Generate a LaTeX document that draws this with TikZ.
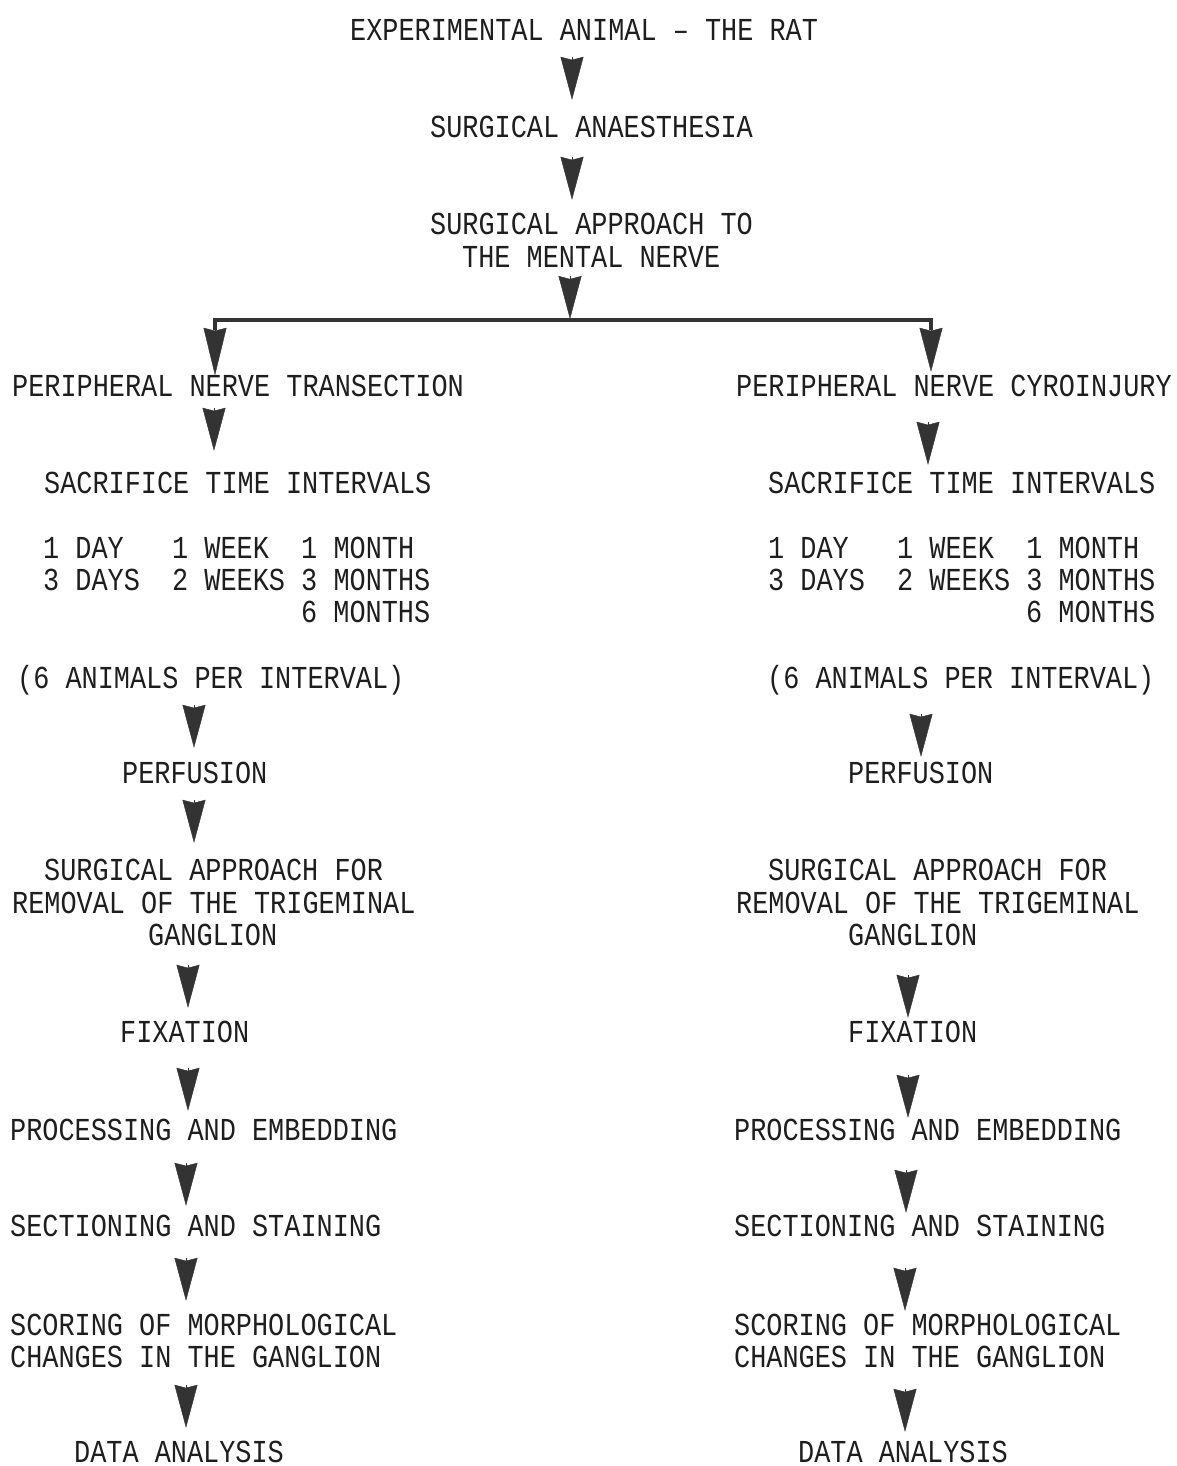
\documentclass[tikz,border=0pt]{standalone}
\usepackage{fontspec}
\newfontfamily\typefont{Liberation Mono}[FakeStretch=0.84]
\usetikzlibrary{arrows.meta}
\definecolor{ink}{HTML}{1E1E1E}
\definecolor{arrowc}{HTML}{333333}
\tikzset{
  lbl/.style={anchor=west, inner sep=0pt, text height=21pt, text depth=0pt, text=ink,
    font=\typefont\fontsize{32}{32}\selectfont},
  dart/.style={-{Stealth[length=#1,width=23pt,inset=3pt]}, line width=0.4pt, draw=arrowc},
  dart/.default=43pt,
  barline/.style={draw=arrowc, line width=4.5pt, line join=miter},
}
\begin{document}
\begin{tikzpicture}[x=1pt,y=-1pt]
\path[fill=white] (0,0) rectangle (1176,1466);
\useasboundingbox (0,0) rectangle (1176,1466);

% ---- top trunk
\node[lbl] (t1) at (350,30) {EXPERIMENTAL ANIMAL – THE RAT};
\node[lbl] (t2) at (430,127) {SURGICAL ANAESTHESIA};
\node[lbl] (t3a) at (430,224) {SURGICAL APPROACH TO};
\node[lbl] (t3b) at (462,257) {THE MENTAL NERVE};
\coordinate (split) at (570,320);
\coordinate (bl) at (215,320);
\coordinate (br) at (931,320);

\draw[dart, shorten <=16.5pt, shorten >=16.5pt] (t1.south -| 572,0) -- (t2.north -| 572,0);
\draw[dart, shorten <=19.5pt, shorten >=13.5pt] (t2.south -| 572,0) -- (t3a.north -| 572,0);
\draw[dart, shorten <=8.5pt, shorten >=1pt] (t3b.south -| split) -- (split);
\draw[barline] (bl) ++(0,10) -- (bl) -- (br) -- ++(0,10);

% ---- left branch
\node[lbl] (L1) at (12,386) {PERIPHERAL NERVE TRANSECTION};
\node[lbl] (L2) at (44,483) {SACRIFICE TIME INTERVALS};
\node[lbl] (Lr1) at (43,548) {1 DAY~~~1 WEEK~~1 MONTH};
\node[lbl] (Lr2) at (43,580) {3 DAYS~~2 WEEKS 3 MONTHS};
\node[lbl] (Lr3) at (301,612) {6 MONTHS};
\node[lbl] (L4) at (17,678) {(6 ANIMALS PER INTERVAL)};
\node[lbl] (LPERF) at (122,773) {PERFUSION};
\node[lbl] (LS1) at (44,870) {SURGICAL APPROACH FOR};
\node[lbl] (LS2) at (12,903) {REMOVAL OF THE TRIGEMINAL};
\node[lbl] (LS3) at (148,935) {GANGLION};
\node[lbl] (LFIX) at (120,1032) {FIXATION};
\node[lbl] (LPROC) at (10,1130) {PROCESSING AND EMBEDDING};
\node[lbl] (LSECT) at (10,1226) {SECTIONING AND STAINING};
\node[lbl] (LSC1) at (10,1325) {SCORING OF MORPHOLOGICAL};
\node[lbl] (LSC2) at (10,1357) {CHANGES IN THE GANGLION};
\node[lbl] (LDATA) at (74,1452) {DATA ANALYSIS};

\draw[dart=47.5pt, shorten <=8pt] (bl) -- (L1.north -| bl);
\draw[dart, shorten <=11.5pt, shorten >=21.5pt] (L1.south -| 214,0) -- (L2.north -| 214,0);
\draw[dart, shorten <=16.5pt, shorten >=14.5pt] (L4.south -| 194,0) -- (LPERF.north -| 194,0);
\draw[dart, shorten <=16.5pt, shorten >=16.5pt] (LPERF.south -| 194,0) -- (LS1.north -| 194,0);
\draw[dart, shorten <=19.5pt, shorten >=13.5pt] (LS3.south -| 188,0) -- (LFIX.north -| 188,0);
\draw[dart, shorten <=25.5pt, shorten >=8.5pt] (LFIX.south -| 188,0) -- (LPROC.north -| 188,0);
\draw[dart, shorten <=22.5pt, shorten >=9.5pt] (LPROC.south -| 186,0) -- (LSECT.north -| 186,0);
\draw[dart, shorten <=21.5pt, shorten >=13.5pt] (LSECT.south -| 186,0) -- (LSC1.north -| 186,0);
\draw[dart, shorten <=17.5pt, shorten >=13.5pt] (LSC2.south -| 186,0) -- (LDATA.north -| 186,0);

% ---- right branch
\node[lbl] (R1) at (736,386) {PERIPHERAL NERVE CYROINJURY};
\node[lbl] (R2) at (768,483) {SACRIFICE TIME INTERVALS};
\node[lbl] (Rr1) at (768,548) {1 DAY~~~1 WEEK~~1 MONTH};
\node[lbl] (Rr2) at (768,580) {3 DAYS~~2 WEEKS 3 MONTHS};
\node[lbl] (Rr3) at (1026,612) {6 MONTHS};
\node[lbl] (R4) at (767,678) {(6 ANIMALS PER INTERVAL)};
\node[lbl] (RPERF) at (848,773) {PERFUSION};
\node[lbl] (RS1) at (768,870) {SURGICAL APPROACH FOR};
\node[lbl] (RS2) at (736,903) {REMOVAL OF THE TRIGEMINAL};
\node[lbl] (RS3) at (848,935) {GANGLION};
\node[lbl] (RFIX) at (848,1032) {FIXATION};
\node[lbl] (RPROC) at (734,1130) {PROCESSING AND EMBEDDING};
\node[lbl] (RSECT) at (734,1226) {SECTIONING AND STAINING};
\node[lbl] (RSC1) at (734,1325) {SCORING OF MORPHOLOGICAL};
\node[lbl] (RSC2) at (734,1357) {CHANGES IN THE GANGLION};
\node[lbl] (RDATA) at (798,1452) {DATA ANALYSIS};

\draw[dart=44pt, shorten <=8pt, shorten >=3.5pt] (br) -- (R1.north -| br);
\draw[dart, shorten <=25.5pt, shorten >=7.5pt] (R1.south -| 928,0) -- (R2.north -| 928,0);
\draw[dart, shorten <=25.5pt, shorten >=5.5pt] (R4.south -| 921,0) -- (RPERF.north -| 921,0);
\draw[dart, shorten <=29.5pt, shorten >=3.5pt] (RS3.south -| 908,0) -- (RFIX.north -| 908,0);
\draw[dart, shorten <=32.5pt, shorten >=1.5pt] (RFIX.south -| 908,0) -- (RPROC.north -| 908,0);
\draw[dart, shorten <=29.5pt, shorten >=2.5pt] (RPROC.south -| 906,0) -- (RSECT.north -| 906,0);
\draw[dart, shorten <=31.5pt, shorten >=3.5pt] (RSECT.south -| 905,0) -- (RSC1.north -| 905,0);
\draw[dart, shorten <=21.5pt, shorten >=9.5pt] (RSC2.south -| 905,0) -- (RDATA.north -| 905,0);
\end{tikzpicture}
\end{document}
